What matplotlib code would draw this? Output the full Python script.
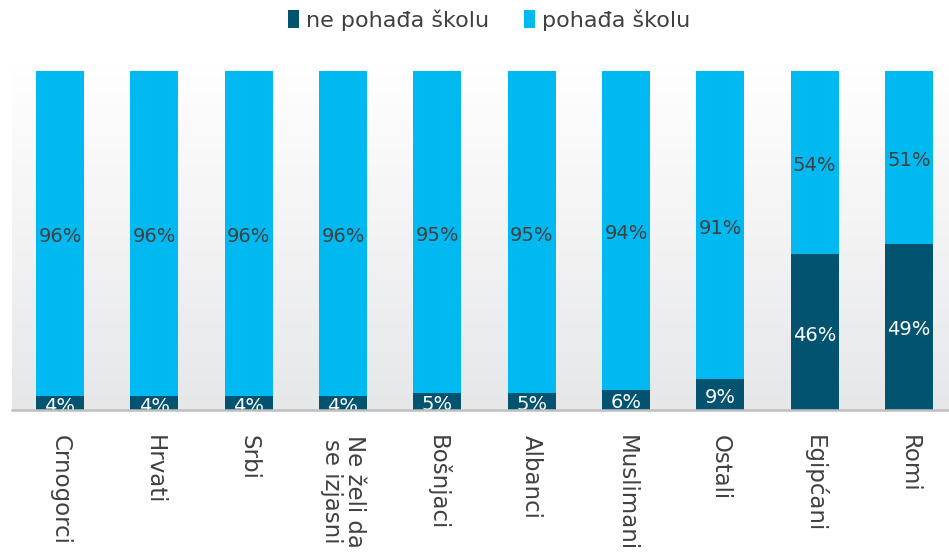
import matplotlib
matplotlib.use("Agg")
import matplotlib.pyplot as plt
import numpy as np
from matplotlib.colors import LinearSegmentedColormap
import matplotlib.transforms as mtransforms

categories = ["Crnogorci", "Hrvati", "Srbi", "Ne želi da\nse izjasni", "Bošnjaci",
              "Albanci", "Muslimani", "Ostali", "Egipćani", "Romi"]
ne_pohadja = [4, 4, 4, 4, 5, 5, 6, 9, 46, 49]
pohadja = [96, 96, 96, 96, 95, 95, 94, 91, 54, 51]
series_names = ["ne pohađa školu", "pohađa školu"]

dark = "#02536F"
light = "#00B9F1"
txt = "#404040"

plt.rcParams['font.family'] = ['DejaVu Sans']

fig = plt.figure(figsize=(9.49, 5.52), dpi=100)
W, H = 949, 552
ax_left, ax_right = 12, 949
ax_top, ax_bot = 62, 410
ax = fig.add_axes([ax_left / W, 1 - ax_bot / H, (ax_right - ax_left) / W, (ax_bot - ax_top) / H])

step = 94.33
x = np.arange(len(categories))
xmin = -(60 - ax_left) / step
xmax = xmin + (ax_right - ax_left) / step
ymax = 100 * (ax_bot - ax_top) / (ax_bot - 71)

# gradient background
cmap = LinearSegmentedColormap.from_list("bg", ["#FFFFFF", "#E6E7E9"])
grad = np.linspace(0, 1, 256).reshape(-1, 1)
ax.imshow(grad, aspect="auto", cmap=cmap, extent=[xmin, xmax, 0, ymax], origin="upper", zorder=0)

bw = 48 / step
b1 = ax.bar(x, ne_pohadja, bw, color=dark, label=series_names[0], zorder=2)
b2 = ax.bar(x, pohadja, bw, bottom=ne_pohadja, color=light, label=series_names[1], zorder=2)

off = mtransforms.offset_copy(ax.transData, fig=fig, x=0, y=-3, units="dots")
for i in range(len(categories)):
    ax.text(x[i], ne_pohadja[i] / 2, f"{ne_pohadja[i]}%", ha="center", va="center",
            color="white", fontsize=14, zorder=3, transform=off)
    ax.text(x[i], ne_pohadja[i] + pohadja[i] / 2, f"{pohadja[i]}%", ha="center", va="center",
            color=txt, fontsize=14, zorder=3, transform=off)

ax.set_xlim(xmin, xmax)
ax.set_ylim(0, ymax)
ax.set_yticks([])
ax.set_xticks(x)
ax.set_xticklabels(categories, rotation=270, fontsize=16.5, color=txt, va="top", ha="center",
                   linespacing=1.0)
ax.tick_params(axis="x", length=0, pad=18)
for s in ["top", "right", "left"]:
    ax.spines[s].set_visible(False)
ax.spines["bottom"].set_color("#BFBFBF")
ax.spines["bottom"].set_linewidth(1.8)
ax.spines["bottom"].set_zorder(4)

leg = fig.legend(handles=[b1, b2], labels=series_names, loc="center", bbox_to_anchor=(489 / W, 1 - 20 / H),
                 ncol=2, frameon=False, fontsize=16, handlelength=0.5, handleheight=0.9,
                 handletextpad=0.3, columnspacing=1.6)
for t in leg.get_texts():
    t.set_color(txt)

fig.savefig("out.png", dpi=100)
